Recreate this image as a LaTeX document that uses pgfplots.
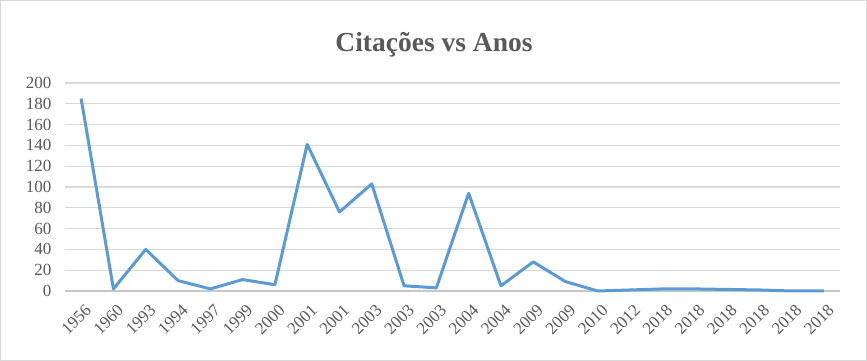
\documentclass[border=0pt]{standalone}
\usepackage{pgfplots}
\pgfplotsset{compat=1.18}
\usepackage{fontspec}
\setmainfont{Liberation Serif}
\definecolor{linec}{HTML}{5B9BD5}
\definecolor{gridc}{HTML}{D9D9D9}
\definecolor{txtc}{HTML}{595959}
\begin{document}
\begin{tikzpicture}[x=1pt,y=1pt]
\path[use as bounding box] (0,0) rectangle (867,361);
\draw[gridc, line width=1pt] (0.5,0.5) rectangle (866.5,360.5);
\node[text=txtc, font=\fontsize{27.5}{32}\selectfont\bfseries, anchor=base] at (434,309.5) {Citações vs Anos};
\begin{axis}[
  at={(65pt,70pt)}, anchor=south west,
  scale only axis, width=775pt, height=208pt,
  xmin=-0.5, xmax=23.5, ymin=0, ymax=200,
  ytick={0,20,...,200},
  xtick={0,...,23},
  xticklabels={1956,1960,1993,1994,1997,1999,2000,2001,2001,2003,2003,2003,2004,2004,2009,2009,2010,2012,2018,2018,2018,2018,2018,2018},
  x tick label style={xshift=3pt, yshift=-12pt, rotate=45, anchor=north east, inner sep=0pt},
  tick label style={font=\fontsize{17}{18}\selectfont, text=txtc},
  /pgf/number format/assume math mode=true,
  ymajorgrids, grid style={gridc, line width=1.3pt},
  axis line style={draw=none},
  major tick length=0pt,
  yticklabel style={xshift=-10pt},
  clip=false,
]
\draw[gridc!80!gray, line width=1.3pt] (axis cs:-0.5,0) -- (axis cs:23.5,0);
\addplot[linec, line width=3pt, line join=round, mark=none] coordinates {
(0,185) (1,2) (2,40) (3,10) (4,2) (5,11) (6,6) (7,141) (8,76) (9,103)
(10,5) (11,3) (12,94) (13,5) (14,28) (15,9) (16,0) (17,1) (18,2) (19,2)
(20,1.5) (21,1) (22,0) (23,0)
};
\end{axis}
\end{tikzpicture}
\end{document}
